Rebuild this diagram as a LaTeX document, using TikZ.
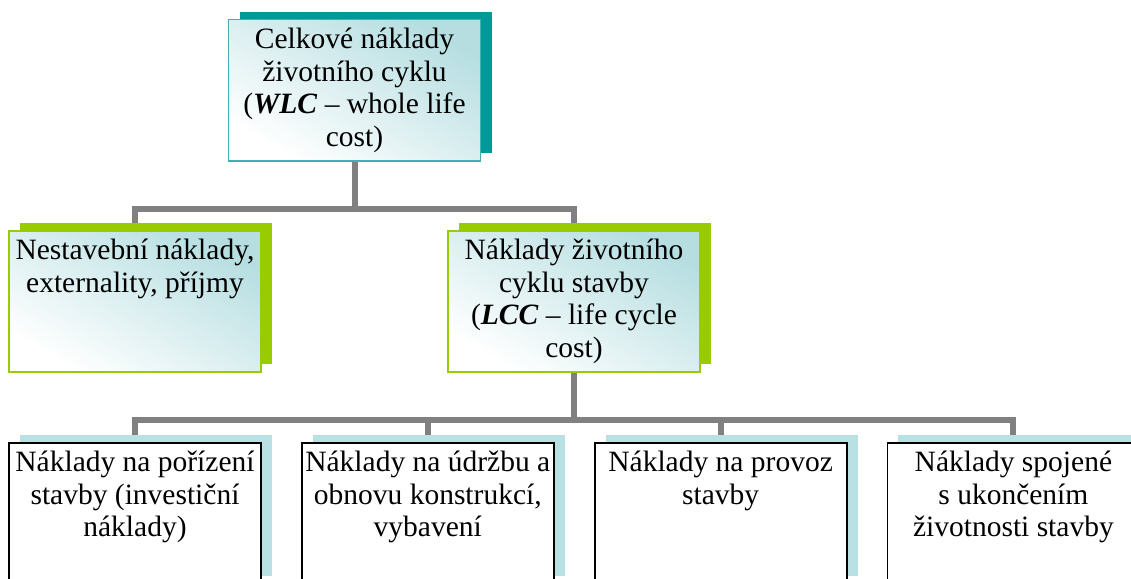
\documentclass[tikz,border=0pt]{standalone}
\usepackage{fontspec}
\setmainfont{Liberation Serif}
\usepackage{tikz}
\usetikzlibrary{positioning,shadows,backgrounds}
\definecolor{wlcteal}{RGB}{0,153,153}
\definecolor{wlcline}{RGB}{64,176,176}
\definecolor{lccgreen}{RGB}{153,204,0}
\definecolor{costblue}{RGB}{185,224,226}
\definecolor{glow}{RGB}{182,222,225}
\definecolor{wire}{RGB}{128,128,128}

\begin{document}
\begin{tikzpicture}[x=1pt,y=-1pt,
  font=\fontsize{29.5}{32.5}\selectfont,
  card/.style={rectangle,inner xsep=-6pt,inner ysep=0pt,text width=264pt,minimum width=252pt,
    align=flush center,text height=29pt,text depth=112pt,anchor=north},
  tealcard/.style={card,draw=wlcline,line width=1.5pt,top color=glow,bottom color=white,shading angle=-30,
    general shadow={fill=wlcteal,shadow xshift=11pt,shadow yshift=8pt}},
  greencard/.style={card,draw=lccgreen,line width=1.5pt,top color=glow,bottom color=white,shading angle=-30,
    general shadow={fill=lccgreen,shadow xshift=11pt,shadow yshift=8pt}},
  bluecard/.style={card,draw=black,line width=1.8pt,fill=white,
    general shadow={fill=costblue,shadow xshift=11pt,shadow yshift=8pt}},
  link/.style={draw=wire,line width=6pt}]
  \path[use as bounding box,clip] (0,0) rectangle (1131,578);
  \node[tealcard] (wlc) at (354.5,19) {Celkové náklady\\životního cyklu\\(\textbf{\textit{WLC}} -- whole life\\cost)};
  \node[greencard] (nestav) at (135,230) {Nestavební náklady,\\externality, příjmy};
  \node[greencard,right=185.5pt of nestav] (lcc) {Náklady životního\\cyklu stavby\\(\textbf{\textit{LCC}} -- life cycle\\cost)};
  \node[bluecard] (inv) at (135,442) {Náklady na pořízení\\stavby (investiční\\náklady)};
  \node[bluecard,right=39pt of inv] (udr) {Náklady na údržbu a\\obnovu konstrukcí,\\vybavení};
  \node[bluecard,right=39pt of udr] (prov) {Náklady na provoz\\stavby};
  \node[bluecard,right=39pt of prov] (konec) {Náklady spojené\\s ukončením\\životnosti stavby};
  \begin{scope}[on background layer]
    \draw[link] (wlc.south) -- ++(0,47.5) -| (nestav.north);
    \draw[link] (wlc.south) -- ++(0,47.5) -| (lcc.north);
    \foreach \n in {inv,udr,prov,konec}
      \draw[link] (lcc.south) -- ++(0,47) -| (\n.north);
  \end{scope}
\end{tikzpicture}
\end{document}
